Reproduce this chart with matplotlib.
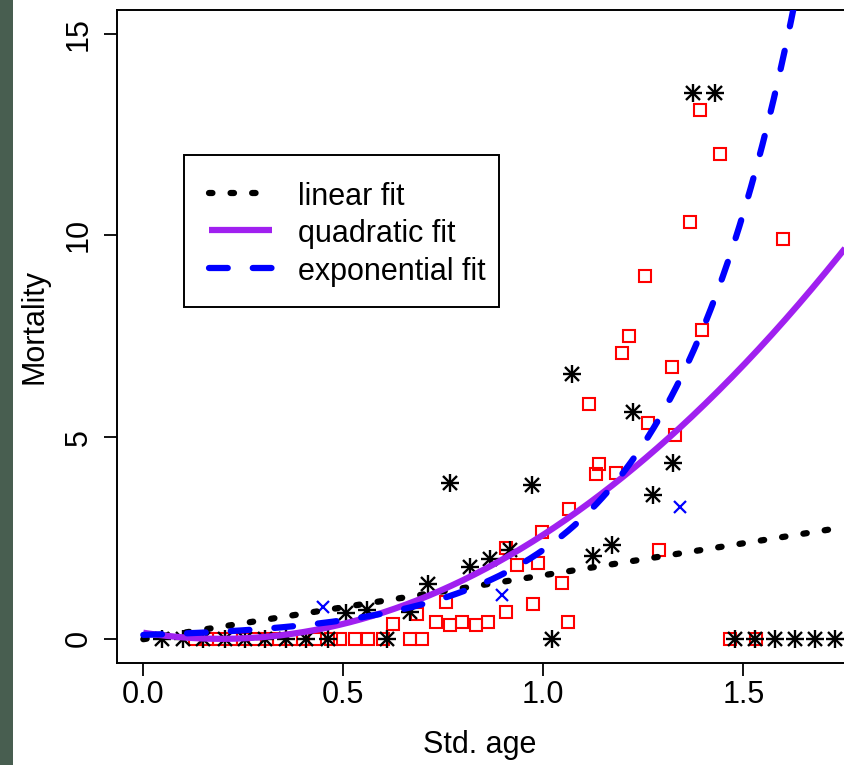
import numpy as np
import matplotlib
matplotlib.use("Agg")
import matplotlib.pyplot as plt
from matplotlib.lines import Line2D
from matplotlib.patches import Rectangle

plt.rcParams['font.family'] = ['Liberation Sans', 'DejaVu Sans']

# ---- observed mortality by standardised age, three groups ----
star_x = [0.046, 0.100, 0.150, 0.204, 0.254, 0.304, 0.357, 0.407, 0.462, 0.610,
          1.021, 1.479, 1.529, 1.579, 1.629, 1.679, 1.729,
          0.508, 0.558, 0.667, 0.713, 0.767, 0.817, 0.867, 0.917, 0.971,
          1.071, 1.124, 1.173, 1.223, 1.275, 1.325, 1.375, 1.429]
star_y = [0, 0, 0, 0, 0, 0, 0, 0, 0, 0,
          0, 0, 0, 0, 0, 0, 0,
          0.63, 0.71, 0.67, 1.35, 3.85, 1.78, 1.99, 2.20, 3.81,
          6.57, 2.05, 2.32, 5.62, 3.56, 4.36, 13.52, 13.52]

square_x = [0.13, 0.16, 0.19, 0.22, 0.25, 0.28, 0.31, 0.34, 0.37, 0.40, 0.43, 0.47,
            0.492, 0.529, 0.563, 0.600, 0.667, 0.696, 1.467, 1.533,
            0.625, 0.683, 0.733, 0.758, 0.767, 0.796, 0.833, 0.862, 0.907, 0.908,
            0.933, 0.975, 0.988, 0.998, 1.046, 1.062, 1.064, 1.115, 1.131, 1.139,
            1.183, 1.196, 1.214, 1.254, 1.263, 1.290, 1.323, 1.329, 1.367, 1.392,
            1.396, 1.442, 1.600]
square_y = [0, 0, 0, 0, 0, 0, 0, 0, 0, 0, 0, 0,
            0, 0, 0, 0, 0, 0, 0, 0,
            0.36, 0.61, 0.42, 0.90, 0.34, 0.42, 0.34, 0.42, 2.26, 0.67,
            1.83, 0.86, 1.87, 2.65, 1.39, 0.42, 3.21, 5.81, 4.08, 4.34,
            4.12, 7.08, 7.50, 8.99, 5.35, 2.20, 6.74, 5.04, 10.34, 13.11,
            7.66, 12.02, 9.92]

cross_x = [0.448, 0.896, 1.342]
cross_y = [0.80, 1.08, 3.27]

# ---- fitted model coefficients ----
lin_coef = (-0.01, 1.585)              # intercept, slope
quad_coef = (0.15, -1.55, 3.98)        # a + b*x + c*x^2
exp_coef = (0.0964, 3.13)              # a * exp(b*x)

x_ticks = [0.0, 0.5, 1.0, 1.5]
x_tick_labels = ["0.0", "0.5", "1.0", "1.5"]
y_ticks = [0, 5, 10, 15]
y_tick_labels = ["0", "5", "10", "15"]
legend_labels = ["linear fit", "quadratic fit", "exponential fit"]

W, H = 845, 765
fig = plt.figure(figsize=(W / 100, H / 100), dpi=100)
fig.patch.set_facecolor('white')


def fx(px):
    return px / W


def fy(py):
    return 1 - py / H


# dark strip along the left edge
fig.patches.append(Rectangle((0, 0), fx(13), 1, transform=fig.transFigure,
                             facecolor='#485e50', edgecolor='none', zorder=0))

ax_left, ax_right, ax_top, ax_bottom = 117, 862, 9.5, 663
ax = fig.add_axes([fx(ax_left), fy(ax_bottom), fx(ax_right - ax_left),
                   (ax_bottom - ax_top) / H])
ax.set_xlim((ax_left - 143.3) / 400, (ax_right - 143.3) / 400)
ax.set_ylim(-0.6, 15.6)

for s in ax.spines.values():
    s.set_linewidth(1.4)
    s.set_color('black')

FS = 22
ax.set_xticks(x_ticks)
ax.set_xticklabels(x_tick_labels, fontsize=FS)
ax.set_yticks(y_ticks)
ax.set_yticklabels(y_tick_labels, fontsize=FS, rotation=90, va='center')
ax.tick_params(axis='both', length=9.4, width=1.3, direction='out')
ax.tick_params(axis='x', pad=2.5)
ax.tick_params(axis='y', pad=7.5)

# points
ax.plot(square_x, square_y, linestyle='none', marker='s', ms=8.8,
        mfc='none', mec='#ff0000', mew=1.5, zorder=2)
ax.plot(star_x, star_y, linestyle='none', marker='+', ms=13.5,
        mec='black', mew=1.7, zorder=3)
ax.plot(star_x, star_y, linestyle='none', marker='x', ms=9.5,
        mec='black', mew=1.7, zorder=3)
ax.plot(cross_x, cross_y, linestyle='none', marker='x', ms=9,
        mec='#0000ff', mew=1.6, zorder=3)

# fitted curves
x_fit = np.linspace(0, 1.9, 400)
y_lin = lin_coef[0] + lin_coef[1] * x_fit
y_quad = quad_coef[0] + quad_coef[1] * x_fit + quad_coef[2] * x_fit ** 2
y_exp = exp_coef[0] * np.exp(exp_coef[1] * x_fit)

LW = 4.5
dot_style = (0, (0.55, 2.9))
dash_style = (0, (3.0, 4.0))
styles = [dict(color='black', lw=LW, linestyle=dot_style, dash_capstyle='round'),
          dict(color='#a020f0', lw=LW, linestyle='-', solid_capstyle='butt'),
          dict(color='#0000ff', lw=LW, linestyle=dash_style, dash_capstyle='round')]

ax.plot(x_fit, y_lin, zorder=4, **styles[0])
ax.plot(x_fit, y_quad, zorder=5, **styles[1])
ax.plot(x_fit, y_exp, zorder=6, **styles[2])

# axis titles
fig.text(fx(35), fy(326), "Mortality", rotation=90, ha='center', va='center',
         fontsize=FS)
fig.text(fx(480), fy(745), "Std. age", ha='center', va='center', fontsize=FS)

# legend box
box = Rectangle((fx(184), fy(307)), fx(499) - fx(184), fy(155) - fy(307),
                transform=fig.transFigure, facecolor='white', edgecolor='black',
                linewidth=1.4, zorder=10)
fig.patches.append(box)
rows = [193, 230, 268]
for label, row, st in zip(legend_labels, rows, styles):
    fig.lines.append(Line2D([fx(209), fx(272)], [fy(row), fy(row)],
                            transform=fig.transFigure, zorder=11, **st))
    fig.text(fx(298), fy(row + 12), label, ha='left', va='baseline',
             fontsize=FS, zorder=12)

fig.savefig("out.png", dpi=100)
